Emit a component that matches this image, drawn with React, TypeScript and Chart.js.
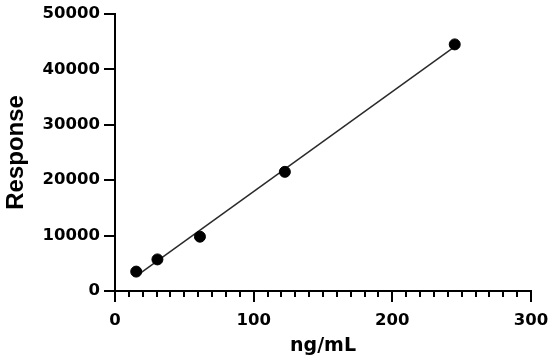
import React, { useEffect, useRef } from "react";
import { Chart, registerables } from "chart.js";

Chart.register(...registerables);

const concentrations = [15.3, 30.6, 61.25, 122.5, 245];
const responses = [3500, 5700, 9800, 21500, 44500];
const fitX = [15.3, 245];
const fitY = [2700, 44100];
const xTicks = [0, 100, 200, 300];
const yTicks = [0, 10000, 20000, 30000, 40000, 50000];
const xMinorStep = 10;

const minorTicks = {
  id: "minorTicks",
  afterDraw(chart: any) {
    const sx = chart.scales.x;
    const ctx = chart.ctx;
    const bottom = chart.chartArea.bottom;
    ctx.save();
    ctx.strokeStyle = "#000";
    ctx.lineWidth = 2;
    for (let v = sx.min + xMinorStep; v < sx.max; v += xMinorStep) {
      if (xTicks.includes(v)) continue;
      const px = Math.round(sx.getPixelForValue(v));
      ctx.beginPath();
      ctx.moveTo(px, bottom);
      ctx.lineTo(px, bottom + 6);
      ctx.stroke();
    }
    ctx.restore();
  },
};

export default function App() {
  const ref = useRef<HTMLCanvasElement>(null);
  useEffect(() => {
    document.body.style.margin = "0";
    const chart = new Chart(ref.current!, {
      type: "scatter",
      data: {
        datasets: [
          {
            type: "line",
            data: fitX.map((x, i) => ({ x, y: fitY[i] })),
            borderColor: "#2a2a2a",
            borderWidth: 1.5,
            pointRadius: 0,
            fill: false,
            order: 2,
          } as any,
          {
            type: "scatter",
            data: concentrations.map((x, i) => ({ x, y: responses[i] })),
            backgroundColor: "#000",
            borderColor: "#000",
            pointRadius: 5.5,
            order: 1,
          },
        ],
      },
      options: {
        animation: false,
        responsive: false,
        maintainAspectRatio: false,
        layout: { padding: { top: 13, right: 19, left: 0, bottom: 0 } },
        plugins: { legend: { display: false }, tooltip: { enabled: false } },
        scales: {
          x: {
            type: "linear",
            min: 0,
            max: 300,
            afterBuildTicks: (s: any) => {
              s.ticks = xTicks.map((v) => ({ value: v }));
            },
            afterFit: (s: any) => {
              s.height = 66;
              s.paddingRight = 0;
              s.paddingLeft = 0;
            },
            border: { color: "#000", width: 2 },
            grid: { drawOnChartArea: false, drawTicks: true, tickLength: 11, color: "#000", lineWidth: 2 },
            ticks: {
              color: "#000",
              padding: 9,
              callback: (v: any) => String(v),
              font: { family: "DejaVu Sans", weight: "bold", size: 16.5 },
            },
            title: {
              display: true,
              text: "ng/mL",
              color: "#000",
              padding: { top: 5.5, bottom: 0 },
              font: { family: "DejaVu Sans", weight: "bold", size: 19 },
            },
          },
          y: {
            type: "linear",
            min: 0,
            max: 50000,
            afterBuildTicks: (s: any) => {
              s.ticks = yTicks.map((v) => ({ value: v }));
            },
            afterFit: (s: any) => {
              s.width = 115;
            },
            border: { color: "#000", width: 2 },
            grid: { drawOnChartArea: false, drawTicks: true, tickLength: 11, color: "#000", lineWidth: 2 },
            ticks: {
              color: "#000",
              padding: 4,
              callback: (v: any) => String(v),
              font: { family: "DejaVu Sans", weight: "bold", size: 16.5 },
            },
            title: {
              display: true,
              text: "Response",
              color: "#000",
              padding: { top: 2, bottom: 0 },
              font: { family: "Liberation Sans", weight: "bold", size: 24 },
            },
          },
        },
      },
      plugins: [minorTicks],
    });
    return () => chart.destroy();
  }, []);
  return (
    <div style={{ width: 550, height: 357, background: "#fff" }}>
      <canvas ref={ref} width={550} height={357} />
    </div>
  );
}
